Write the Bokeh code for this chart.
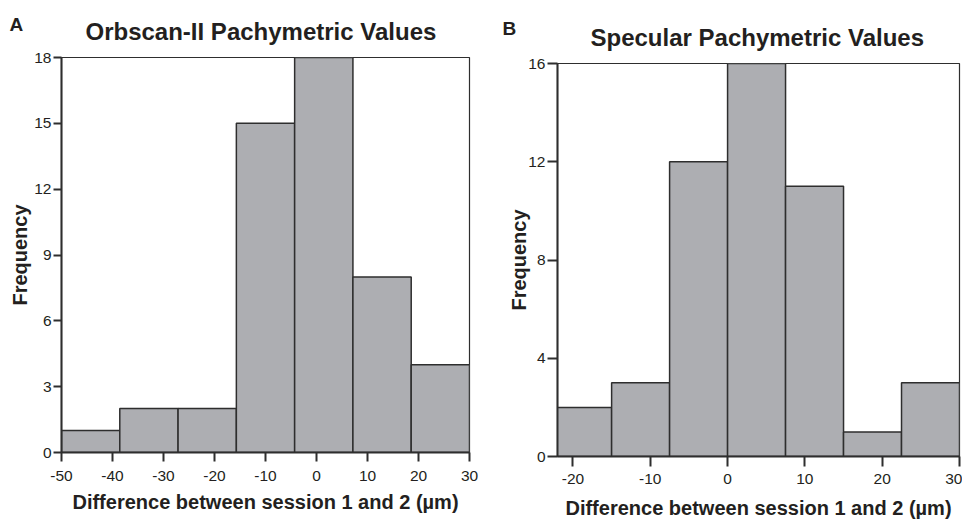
from bokeh.plotting import figure
from bokeh.models import ColumnDataSource, Range1d, FixedTicker, Title
from bokeh.layouts import row
from bokeh.embed import file_html
from bokeh.resources import INLINE

# ---- data ----
orb_edges = [-50, -38.571, -27.143, -15.714, -4.286, 7.143, 18.571, 30]
orb_counts = [1, 2, 2, 15, 18, 8, 4]
orb_xticks = [-50, -40, -30, -20, -10, 0, 10, 20, 30]
orb_yticks = [0, 3, 6, 9, 12, 15, 18]

spec_edges = [-22.5, -15, -7.5, 0, 7.5, 15, 22.5, 30]
spec_counts = [2, 3, 12, 16, 11, 1, 3]
spec_xticks = [-20, -10, 0, 10, 20, 30]
spec_yticks = [0, 4, 8, 12, 16]

FONT = "Liberation Sans"
TXT = "#231f20"
DARK = "#2e2e2e"
BAR = "#adaeb2"


def panel(title, letter, edges, counts, xr, yr, xticks, yticks, width, height,
          bl, br, bt, xlab_s, xtl_s, ylab_s, ytick_out, xtick_out, title_s,
          title_off, letter_off, letter_s):
    p = figure(width=width, height=height, x_range=Range1d(*xr), y_range=Range1d(*yr),
               output_backend="svg", toolbar_location=None, tools="",
               min_border_left=bl, min_border_right=br, min_border_top=bt,
               min_border_bottom=10, title=None)
    src = ColumnDataSource(dict(left=edges[:-1], right=edges[1:], top=counts,
                                bottom=[0] * len(counts)))
    p.quad(left="left", right="right", top="top", bottom="bottom", source=src,
           fill_color=BAR, line_color=DARK, line_width=1.5)
    p.grid.visible = False
    p.outline_line_color = DARK
    p.outline_line_width = 1.2
    p.background_fill_color = "white"
    p.border_fill_color = "white"

    t = Title(text=title, align="left", text_font=FONT, text_font_size="24px",
              text_font_style="bold", text_color=TXT, standoff=title_s,
              offset=title_off)
    p.add_layout(t, "above")
    lt = Title(text=letter, align="left", text_font=FONT, text_font_size="19px",
               text_font_style="bold", text_color=TXT, standoff=letter_s,
               offset=letter_off)
    p.add_layout(lt, "above")

    for ax in (p.xaxis[0], p.yaxis[0]):
        ax.axis_line_color = DARK
        ax.axis_line_width = 2
        ax.major_tick_line_color = DARK
        ax.major_tick_line_width = 2
        ax.major_tick_in = 0
        ax.minor_tick_line_color = None
        ax.major_label_text_font = FONT
        ax.major_label_text_font_size = "15.5px"
        ax.major_label_text_color = TXT
        ax.axis_label_text_font = FONT
        ax.axis_label_text_font_size = "20px"
        ax.axis_label_text_font_style = "bold"
        ax.axis_label_text_color = TXT

    xa = p.xaxis[0]
    xa.ticker = FixedTicker(ticks=xticks)
    xa.major_label_overrides = {t: str(t) for t in xticks}
    xa.major_tick_out = xtick_out
    xa.major_label_standoff = xtl_s
    xa.axis_label = "Difference between session 1 and 2 (µm)"
    xa.axis_label_standoff = xlab_s

    ya = p.yaxis[0]
    ya.ticker = FixedTicker(ticks=yticks)
    ya.major_tick_out = ytick_out
    ya.major_label_standoff = 2
    ya.axis_label = "Frequency"
    ya.axis_label_standoff = ylab_s
    return p


p1 = panel("Orbscan-II Pachymetric Values", "A", orb_edges, orb_counts,
           (-50, 30), (0, 18), orb_xticks, orb_yticks,
           width=490, height=517, bl=61, br=21, bt=57, xlab_s=7, xtl_s=9,
           ylab_s=0, ytick_out=8, xtick_out=9, title_s=26, title_off=24,
           letter_off=-52, letter_s=-64)
p2 = panel("Specular Pachymetric Values", "B", spec_edges, spec_counts,
           (-22, 30), (0, 16), spec_xticks, spec_yticks,
           width=472, height=515, bl=67, br=3, bt=57, xlab_s=10, xtl_s=7,
           ylab_s=-5, ytick_out=10, xtick_out=10, title_s=26, title_off=33,
           letter_off=-55, letter_s=-60)
p2.margin = (6, 0, 0, 0)

layout = row(p1, p2)
open("out.html", "w").write(file_html(layout, INLINE))
